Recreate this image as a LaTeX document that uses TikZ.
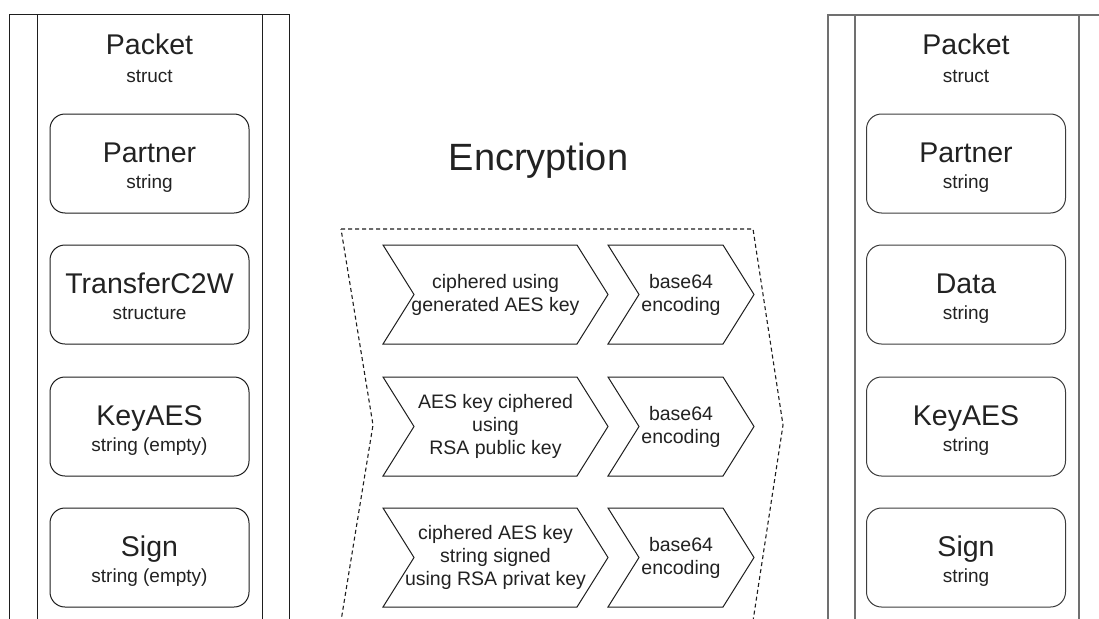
\documentclass[tikz,border=0pt]{standalone}
\usepackage{fontspec}
\setmainfont{Liberation Sans}
\definecolor{txt}{HTML}{222222}
\definecolor{lineL}{HTML}{1E1E1E}
\definecolor{lineR}{HTML}{707070}
\definecolor{boxR}{HTML}{3C3C3C}
\newcommand\mychev[7]{%
  \draw[chev] (#2,#5) -- (#3,#5) -- (#4,{(#5+#6)/2}) -- (#3,#6) -- (#2,#6) -- ({#2+#4-#3},{(#5+#6)/2}) -- cycle;
  \node[steptext] (#1) at ({(#2+#4)/2},{(#5+#6)/2}) {#7};}
\begin{document}
\begin{tikzpicture}[x=1pt,y=-1pt,
  field/.style={draw=#1, line width=1pt, rounded corners=15pt, minimum width=199pt, minimum height=99pt, inner sep=0pt, outer sep=0pt},
  big/.style={font=\fontsize{28.5}{32}\selectfont, text=txt, anchor=base, inner sep=0pt},
  small/.style={font=\fontsize{19}{22}\selectfont, text=txt, anchor=base, inner sep=0pt},
  steptext/.style={font=\fontsize{19.5}{23}\selectfont, text=txt, align=center, inner sep=0pt},
  chev/.style={draw=lineL, line width=1pt, line join=miter},
  panelL/.style={draw=lineL, line width=1pt},
  panelR/.style={draw=lineR, line width=1.3pt},
  dashbox/.style={draw=lineL, line width=1.1pt, dash pattern=on 4pt off 3pt},
]
\useasboundingbox (0,0) rectangle (1099,618);
\clip (0,0) rectangle (1099,618);
\fill[white] (0,0) rectangle (1099,618);

% left panel
\draw[panelL] (9,640) -- (9,15) -- (289,15) -- (289,640);
\draw[panelL] (37,15) -- (37,640);
\draw[panelL] (262,15) -- (262,640);
\node[big] (lpk) at (149.5,55) {Packet};
\node[small] (lps) at (149.5,82) {struct};

\node[field=lineL] (L1) at (149.5,163.5) {};
\node[field=lineL] (L2) at (149.5,294.5) {};
\node[field=lineL] (L3) at (149.5,426.5) {};
\node[field=lineL] (L4) at (149.5,557.5) {};
\node[big] (L1a) at ([yshift=-48.5pt]L1.north) {Partner};
\node[small] (L1b) at ([yshift=-74pt]L1.north) {string};
\node[big] (L2a) at ([yshift=-48.5pt]L2.north) {TransferC2W};
\node[small] (L2b) at ([yshift=-74pt]L2.north) {structure};
\node[big] (L3a) at ([yshift=-48.5pt]L3.north) {KeyAES};
\node[small] (L3b) at ([yshift=-74pt]L3.north) {string (empty)};
\node[big] (L4a) at ([yshift=-48.5pt]L4.north) {Sign};
\node[small] (L4b) at ([yshift=-74pt]L4.north) {string (empty)};

% title
\node[font=\fontsize{38}{44}\selectfont, text=txt, anchor=base, inner sep=0pt] (enc) at (538.5,170) {Encryption};

% dashed step frame
\draw[dashbox] (341,229) -- (753,229) -- (783,425) -- (753,621) -- (341,621) -- (373,425) -- cycle;

% chevrons
\mychev{c11}{383}{577}{608}{245}{344}{ciphered using\\generated AES key}
\mychev{c12}{608}{723}{754}{245}{344}{base64\\encoding}
\mychev{c21}{383}{577}{608}{377}{476}{AES key ciphered\\using\\RSA public key}
\mychev{c22}{608}{723}{754}{377}{476}{base64\\encoding}
\mychev{c31}{383}{577}{608}{508}{607}{ciphered AES key\\string signed\\using RSA privat key}
\mychev{c32}{608}{723}{754}{508}{607}{base64\\encoding}

% right panel
\draw[panelR] (828,640) -- (828,15) -- (1110,15);
\draw[panelR] (855,15) -- (855,640);
\draw[panelR] (1079,15) -- (1079,640);
\node[big] (rpk) at (966,55) {Packet};
\node[small] (rps) at (966,82) {struct};

\node[field=boxR] (R1) at (966,163.5) {};
\node[field=boxR] (R2) at (966,294.5) {};
\node[field=boxR] (R3) at (966,426.5) {};
\node[field=boxR] (R4) at (966,557.5) {};
\node[big] (R1a) at ([yshift=-48.5pt]R1.north) {Partner};
\node[small] (R1b) at ([yshift=-74pt]R1.north) {string};
\node[big] (R2a) at ([yshift=-48.5pt]R2.north) {Data};
\node[small] (R2b) at ([yshift=-74pt]R2.north) {string};
\node[big] (R3a) at ([yshift=-48.5pt]R3.north) {KeyAES};
\node[small] (R3b) at ([yshift=-74pt]R3.north) {string};
\node[big] (R4a) at ([yshift=-48.5pt]R4.north) {Sign};
\node[small] (R4b) at ([yshift=-74pt]R4.north) {string};
\end{tikzpicture}
\end{document}
